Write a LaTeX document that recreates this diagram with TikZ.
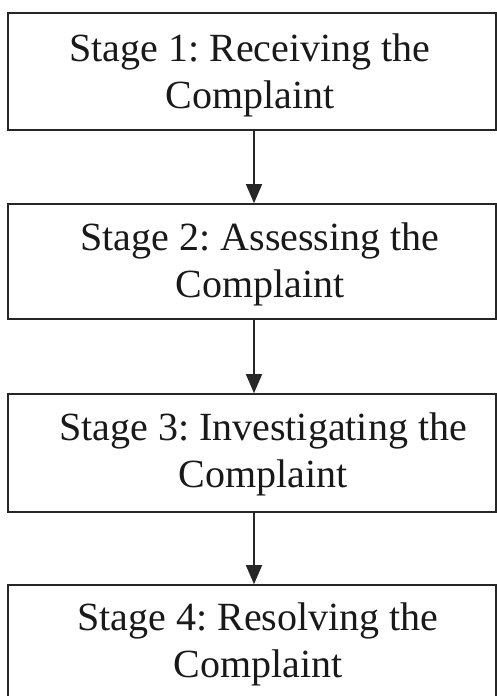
\documentclass[tikz,border=0pt]{standalone}
\usepackage{fontspec}
\setmainfont{Liberation Serif}
\usetikzlibrary{arrows.meta}
\frenchspacing
\begin{document}
\begin{tikzpicture}[x=1pt,y=1pt,
  stagebox/.style={draw=black!85, line width=1.6pt, rectangle, minimum width=488pt, inner sep=0pt},
  stagetext/.style={font=\fontsize{40}{47}\selectfont, align=center, inner sep=0pt, text=black!90},
  flow/.style={draw=black!85, line width=1.4pt, -{Triangle[width=16pt,length=19pt]}}]
  \useasboundingbox (0,0) rectangle (497,-696);
  % stage boxes
  \node[stagebox, minimum height=117pt] (b1) at (252,-71.5) {};
  \node[stagebox, minimum height=115pt] (b2) at (252,-261.5) {};
  \node[stagebox, minimum height=118pt] (b3) at (252,-453) {};
  \node[stagebox, minimum height=117pt] (b4) at (252,-643.5) {};
  % stage labels
  \node[stagetext] (t1) at (250,-75.2) {Stage 1: Receiving the\\Complaint};
  \node[stagetext] (t2) at (260,-264.2) {Stage 2: Assessing the\\Complaint};
  \node[stagetext] (t3) at (263,-454.2) {Stage 3: Investigating the\\Complaint};
  \node[stagetext] (t4) at (258,-644.2) {Stage 4: Resolving the\\Complaint};
  % flow between stages
  \draw[flow] ([xshift=2pt]b1.south) -- ([xshift=2pt]b2.north);
  \draw[flow] ([xshift=2pt]b2.south) -- ([xshift=2pt]b3.north);
  \draw[flow] ([xshift=2pt]b3.south) -- ([xshift=2pt]b4.north);
\end{tikzpicture}
\end{document}
